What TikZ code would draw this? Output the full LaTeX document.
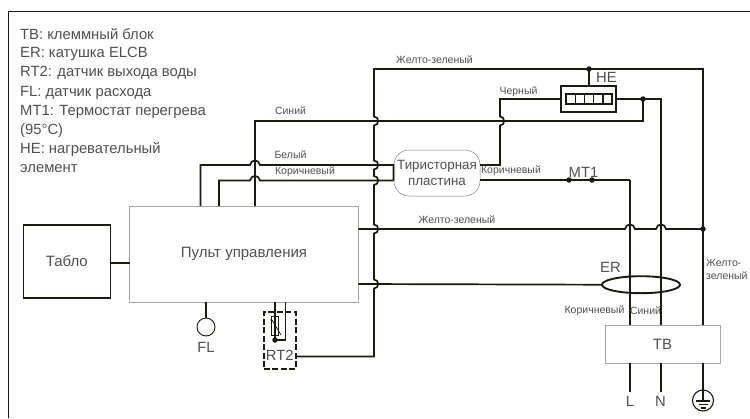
\documentclass[tikz,border=0pt]{standalone}
\usetikzlibrary{shapes.geometric}
\usepackage{fontspec}
\setmainfont{Liberation Sans}
\definecolor{wire}{HTML}{1A1A10}
\definecolor{boxgray}{HTML}{A8A8A8}
\definecolor{txt}{HTML}{4F4F4F}
% bumps: vertical line going up bulges right; horizontal going right bulges up
\newcommand\vbump[2]{-- (#1,#2+4.5) .. controls (#1+5.5,#2+4.5) and (#1+5.5,#2-4.5) .. (#1,#2-4.5)}
\newcommand\hbump[2]{-- (#1-5,#2) .. controls (#1-4,#2-6) and (#1+4,#2-6) .. (#1+5,#2)}
\tikzset{
  x=1pt,y=-1pt,
  wireline/.style={draw=wire,line width=1.7pt,line join=miter},
  thinwire/.style={draw=wire,line width=1.2pt},
  graybox/.style={draw=boxgray,line width=0.8pt,rectangle,inner sep=0pt,outer sep=0pt,text=txt},
  blackbox/.style={draw=wire,line width=1.6pt,rectangle,inner sep=0pt,outer sep=0pt,text=txt},
  dot/.style={circle,fill=wire,inner sep=0pt,minimum size=5.5pt},
  big/.style={text=txt,font=\fontsize{14.8}{17}\selectfont,inner sep=0pt},
  small/.style={text=txt,font=\fontsize{10.5}{12}\selectfont,inner sep=0pt},
}
\begin{document}
\begin{tikzpicture}
\useasboundingbox (0,0) rectangle (750,418);
% frame
\coordinate (fbl) at (8.5,418);
\coordinate (ftl) at (8.5,11);
\coordinate (ftr) at (750,11);
\draw[draw=wire,line width=1pt] (fbl) -- (ftl) -- (ftr);
% legend
\node[big,anchor=west] (lg1) at (20,34) {TB: клеммный блок};
\node[big,anchor=west] (lg2) at (20,54) {ER: катушка ELCB};
\node[big,anchor=west] (lg3) at (20,73) {RT2: датчик выхода воды};
\node[big,anchor=west] (lg4) at (20,92.5) {FL: датчик расхода};
\node[big,anchor=west] (lg5) at (20,111.5) {MT1: Термостат перегрева};
\node[big,anchor=west] (lg6) at (20,130.5) {(95°C)};
\node[big,anchor=west] (lg7) at (20,150) {HE: нагревательный};
\node[big,anchor=west] (lg8) at (20,169) {элемент};
% boxes
\node[blackbox,minimum width=87pt,minimum height=73pt,font=\fontsize{15}{17}\selectfont] (tablo) at (66.8,261.5) {Табло};
\node[graybox,minimum width=228.5pt,minimum height=96pt,font=\fontsize{15}{17}\selectfont] (panel) at (244,254) {Пульт управления};
\node[graybox,rounded corners=15pt,draw=gray,line width=0.5pt,minimum width=86pt,minimum height=46pt,align=center,font=\fontsize{13.4}{16}\selectfont] (thy) at (437,173) {Тиристорная\\пластина};
\node[graybox,minimum width=115pt,minimum height=38pt,font=\fontsize{15}{17}\selectfont] (tb) at (662.5,344) {TB};
\node[blackbox,minimum width=55pt,minimum height=26pt] (he) at (588.5,99) {};
\node[blackbox,line width=1.4pt,minimum width=46pt,minimum height=10pt] (hein) at (589,99) {};
\foreach \cx in {575.2,584.4,593.6,602.8}{\draw[draw=wire,line width=1.4pt] (\cx,94) -- (\cx,104);}
\node[circle,draw=wire,line width=0.9pt,inner sep=0pt,minimum size=18pt] (fl) at (206,327) {};
\node[draw=wire,line width=1.9pt,ellipse,inner sep=0pt,outer sep=0pt,minimum width=78pt,minimum height=17pt] (er) at (641,284.7) {};
\node[rectangle,draw=wire,line width=1.6pt,dash pattern=on 6pt off 2.5pt,inner sep=0pt,minimum width=32pt,minimum height=57pt] (rt) at (279.8,340.5) {};
\node[big] (rtl) at (279.8,355) {RT2};
% named junctions
\coordinate (jt) at (374,69);
\coordinate (jtr) at (703,69);
\coordinate (jtop) at (589,69);
\coordinate (jhe) at (643,99);
\coordinate (jn) at (661,99);
\coordinate (jg) at (703,229);
\coordinate (jblue) at (643,121);
\coordinate (jblk) at (500,99);
\coordinate (mta) at (569,180);
\coordinate (mtb) at (592,180);
\coordinate (jrt) at (275,340);
\coordinate (gndc) at (703,400.5);
% wires
\draw[wireline] (rt.east |- 0,356.5) -- (374,356.5) \vbump{374}{284} \vbump{374}{229} \vbump{374}{180.5} \vbump{374}{165} \vbump{374}{121} -- (jt) -- (jtr) -- (jg) -- (703,325);
\draw[wireline] (jtop) -- (589,86);
\draw[wireline] (panel.east |- 0,229) \hbump{630}{229} \hbump{661}{229} -- (jg);
\draw[wireline] (panel.east |- 0,284) -- (er.west);
\draw[wireline] (tablo.east |- 0,262.7) -- (panel.west |- 0,262.7);
% blue wire
\draw[wireline] (255,206) -- (255,121) -- (jblue) -- (jhe);
\draw[wireline] (he.east |- jhe) -- (jn) -- (661,325);
% white & brown to thyristor
\draw[wireline] (200.5,206) -- (200.5,165) \hbump{255}{165} -- (393.5,165) -- (393.5,180.5);
\draw[wireline] (219,206) -- (219,180.5) \hbump{255}{180.5} -- (393.5,180.5);
% black wire
\draw[wireline] (thy.east |- 0,165) -- (500,165) \vbump{500}{121} -- (jblk) -- (he.west |- jblk);
% brown MT1
\draw[thinwire] (thy.east |- 0,180) -- (mta);
\draw[wireline,line width=2.2pt] (mta) -- (mtb);
\draw[thinwire] (mtb) -- (630,180);
\draw[wireline] (630,180) -- (630,325);
% below TB
\draw[wireline] (630,363) -- (630,392);
\draw[wireline] (661,363) -- (661,392);
\draw[wireline] (703,363) -- (gndc);
% FL
\draw[wireline] (fl.north |- panel.south) -- (fl.north);
% RT2
\draw[wireline] (275,302) -- (jrt);
\draw[thinwire] (285.3,302) -- (285.3,340) -- (jrt);
\node[draw=wire,line width=1pt,rectangle,inner sep=0pt,minimum width=6.5pt,minimum height=19pt] (therm) at (275,325.5) {};
\draw[draw=wire,line width=0.7pt] (270,320) -- (272,320) -- (281,335);
% dots
\node[dot] (d1) at (jtop) {};
\node[dot] (d2) at (jhe) {};
\node[dot] (d3) at (jg) {};
\node[dot] (d4) at (mta) {};
\node[dot] (d5) at (mtb) {};
\node[dot] (d6) at (jrt) {};
% ground
\node[circle,draw=wire,line width=1.1pt,inner sep=0pt,minimum size=21pt] (gnd) at (gndc) {};
\draw[draw=wire,line width=1.2pt] (696,401) -- (710,401);
\draw[draw=wire,line width=1.2pt] (698.5,404.5) -- (707.5,404.5);
\draw[draw=wire,line width=1.2pt] (700.5,408) -- (705.5,408);
% labels
\node[big] (lhe) at (606.5,77) {HE};
\node[big] (lmt) at (583.5,172) {MT1};
\node[big] (ler) at (610.5,267) {ER};
\node[big] (lfl) at (206,347) {FL};
\node[big] (ll) at (630,401) {L};
\node[big] (ln) at (660.5,401) {N};
\node[small] (w1) at (434.5,59.5) {Желто-зеленый};
\node[small] (w2) at (457,220) {Желто-зеленый};
\node[small] (w3) at (290.5,111) {Синий};
\node[small] (w4) at (290.5,155) {Белый};
\node[small] (w5) at (305,172) {Коричневый};
\node[small] (w6) at (518.5,91.5) {Черный};
\node[small] (w7) at (511,171) {Коричневый};
\node[small] (w8) at (594.5,311) {Коричневый};
\node[small] (w9) at (645.5,311) {Синий};
\node[small,anchor=west] (w10) at (706,262.5) {Желто-};
\node[small,anchor=west] (w11) at (706,275.5) {зеленый};
\end{tikzpicture}
\end{document}
